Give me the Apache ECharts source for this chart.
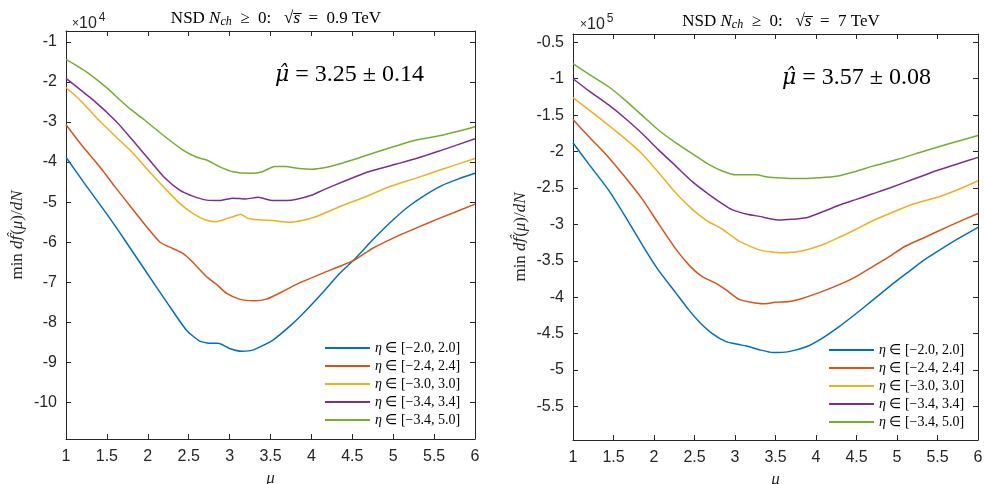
<!DOCTYPE html>
<html>
<head>
<meta charset="utf-8">
<script src="https://cdn.jsdelivr.net/npm/echarts@6/dist/echarts.min.js"></script>
<style>
  html, body { margin: 0; padding: 0; background: #fff; }
  #chart { width: 984px; height: 484px; }
</style>
</head>
<body>
<div id="chart"></div>
<script>
// Pseudorapidity window names (legend entries)
const etaNames = ['η ∈ [−2.0, 2.0]', 'η ∈ [−2.4, 2.4]', 'η ∈ [−3.0, 3.0]', 'η ∈ [−3.4, 3.4]', 'η ∈ [−3.4, 5.0]'];
const lineColors = ['#0072BD', '#D95319', '#EDB120', '#7E2F8E', '#77AC30'];

// Tick labels
const muTicks = [1, 1.5, 2, 2.5, 3, 3.5, 4, 4.5, 5, 5.5, 6];
const yTicks09 = [-10, -9, -8, -7, -6, -5, -4, -3, -2, -1];
const yTicks7 = [-5.5, -5, -4.5, -4, -3.5, -3, -2.5, -2, -1.5, -1, -0.5];

// sqrt(s) = 0.9 TeV : [mu, min df/dN] in units of 1e4
const s09_eta20 = [[1.0,-3.88],[1.25,-4.6],[1.5,-5.3],[1.72,-5.95],[2.0,-6.8],[2.25,-7.55],[2.47,-8.19],[2.63,-8.46],[2.75,-8.52],[2.86,-8.52],[3.0,-8.65],[3.15,-8.72],[3.3,-8.68],[3.53,-8.44],[3.75,-8.07],[3.94,-7.69],[4.15,-7.23],[4.35,-6.77],[4.53,-6.42],[4.75,-5.94],[5.0,-5.44],[5.2,-5.09],[5.4,-4.81],[5.6,-4.58],[5.8,-4.42],[6.0,-4.28]];
const s09_eta24 = [[1.0,-3.07],[1.2,-3.6],[1.41,-4.11],[1.6,-4.62],[1.82,-5.19],[2.0,-5.65],[2.15,-6.0],[2.3,-6.15],[2.43,-6.28],[2.55,-6.5],[2.72,-6.86],[2.85,-7.07],[2.96,-7.27],[3.12,-7.42],[3.3,-7.46],[3.45,-7.42],[3.65,-7.23],[3.86,-7.01],[4.14,-6.77],[4.35,-6.6],[4.53,-6.44],[4.75,-6.15],[5.04,-5.86],[5.3,-5.63],[5.57,-5.40],[6.0,-5.05]];
const s09_eta30 = [[1.0,-2.14],[1.17,-2.45],[1.4,-2.95],[1.6,-3.35],[1.82,-3.78],[2.0,-4.2],[2.23,-4.70],[2.4,-5.05],[2.55,-5.28],[2.7,-5.44],[2.83,-5.49],[2.95,-5.42],[3.05,-5.36],[3.13,-5.3],[3.22,-5.4],[3.35,-5.44],[3.53,-5.46],[3.73,-5.50],[3.9,-5.45],[4.06,-5.36],[4.35,-5.11],[4.67,-4.86],[4.96,-4.61],[5.28,-4.40],[5.6,-4.18],[6.0,-3.91]];
const s09_eta34 = [[1.0,-1.91],[1.33,-2.45],[1.62,-3.0],[1.8,-3.42],[2.02,-3.95],[2.2,-4.38],[2.39,-4.70],[2.55,-4.85],[2.72,-4.95],[2.88,-4.96],[3.04,-4.90],[3.2,-4.92],[3.35,-4.88],[3.53,-4.96],[3.7,-4.96],[3.82,-4.93],[4.0,-4.83],[4.14,-4.70],[4.4,-4.48],[4.67,-4.26],[5.04,-4.05],[5.3,-3.9],[5.57,-3.72],[6.0,-3.42]];
const s09_eta50 = [[1.0,-1.44],[1.25,-1.75],[1.5,-2.15],[1.66,-2.45],[1.8,-2.7],[1.96,-2.95],[2.2,-3.35],[2.43,-3.70],[2.6,-3.88],[2.72,-3.95],[2.88,-4.12],[3.04,-4.24],[3.25,-4.28],[3.4,-4.24],[3.55,-4.11],[3.68,-4.11],[3.85,-4.16],[4.0,-4.18],[4.23,-4.11],[4.5,-3.95],[4.75,-3.78],[5.0,-3.62],[5.28,-3.45],[5.6,-3.33],[6.0,-3.12]];

// sqrt(s) = 7 TeV : [mu, min df/dN] in units of 1e5
const s7_eta20 = [[1.0,-1.88],[1.2,-2.18],[1.44,-2.53],[1.65,-2.9],[1.86,-3.29],[2.05,-3.62],[2.27,-3.94],[2.42,-4.16],[2.56,-4.34],[2.72,-4.5],[2.89,-4.61],[3.05,-4.65],[3.14,-4.67],[3.30,-4.72],[3.47,-4.76],[3.65,-4.75],[3.88,-4.68],[4.08,-4.56],[4.29,-4.40],[4.5,-4.22],[4.70,-4.04],[4.91,-3.85],[5.12,-3.67],[5.32,-3.50],[5.53,-3.35],[5.75,-3.20],[6.0,-3.04]];
const s7_eta24 = [[1.0,-1.56],[1.2,-1.8],[1.44,-2.08],[1.65,-2.36],[1.86,-2.66],[2.05,-2.98],[2.27,-3.34],[2.45,-3.58],[2.60,-3.72],[2.75,-3.8],[2.89,-3.90],[3.05,-4.03],[3.2,-4.07],[3.34,-4.09],[3.5,-4.07],[3.67,-4.06],[3.85,-4.01],[4.08,-3.92],[4.3,-3.82],[4.49,-3.72],[4.7,-3.58],[4.91,-3.44],[5.1,-3.30],[5.32,-3.19],[5.65,-3.02],[6.0,-2.85]];
const s7_eta30 = [[1.0,-1.26],[1.2,-1.43],[1.44,-1.64],[1.65,-1.83],[1.86,-2.04],[2.05,-2.28],[2.27,-2.57],[2.45,-2.77],[2.64,-2.94],[2.85,-3.07],[3.05,-3.23],[3.3,-3.35],[3.58,-3.39],[3.8,-3.37],[4.08,-3.28],[4.3,-3.17],[4.49,-3.07],[4.7,-2.95],[4.91,-2.85],[5.2,-2.72],[5.52,-2.62],[5.8,-2.50],[6.0,-2.40]];
const s7_eta34 = [[1.0,-1.0],[1.2,-1.17],[1.44,-1.36],[1.65,-1.55],[1.86,-1.76],[2.05,-1.97],[2.27,-2.20],[2.48,-2.42],[2.68,-2.59],[2.85,-2.72],[2.97,-2.80],[3.15,-2.86],[3.30,-2.89],[3.55,-2.94],[3.7,-2.93],[3.88,-2.91],[4.1,-2.82],[4.3,-2.73],[4.49,-2.66],[4.7,-2.58],[4.91,-2.50],[5.2,-2.38],[5.52,-2.25],[5.8,-2.15],[6.0,-2.08]];
const s7_eta50 = [[1.0,-0.794],[1.2,-0.94],[1.44,-1.11],[1.65,-1.3],[1.86,-1.51],[2.05,-1.70],[2.27,-1.88],[2.5,-2.05],[2.68,-2.18],[2.85,-2.27],[3.01,-2.32],[3.15,-2.32],[3.26,-2.32],[3.4,-2.35],[3.51,-2.36],[3.7,-2.37],[3.84,-2.37],[4.05,-2.36],[4.25,-2.34],[4.5,-2.27],[4.7,-2.20],[5.0,-2.11],[5.32,-2.0],[5.65,-1.89],[6.0,-1.78]];

const panel09 = [s09_eta20, s09_eta24, s09_eta30, s09_eta34, s09_eta50];
const panel7 = [s7_eta20, s7_eta24, s7_eta30, s7_eta34, s7_eta50];

const AX = '#262626';
const SANS = 'Liberation Sans, Arial, Helvetica, sans-serif';
const SERIF = 'Liberation Serif, Times New Roman, serif';
const MARKED = 'DejaVu Serif, serif';

function xAxes(gridIndex) {
  const common = {
    type: 'value', gridIndex, min: 1, max: 6, interval: 0.5,
    splitLine: { show: false },
    axisLine: { show: true, onZero: false, lineStyle: { color: AX, width: 1 } },
    axisTick: { show: true, inside: true, length: 5, lineStyle: { color: AX } }
  };
  return [
    Object.assign({}, common, {
      position: 'bottom',
      name: 'μ', nameLocation: 'middle', nameGap: 27,
      nameTextStyle: { fontFamily: SERIF, fontStyle: 'italic', fontSize: 17, color: AX },
      axisLabel: { show: true, margin: 10, fontFamily: SANS, fontSize: 16, color: AX,
        customValues: muTicks, formatter: v => String(v) }
    }),
    Object.assign({}, common, { position: 'top', axisLabel: { show: false } })
  ];
}

function yAxes(gridIndex, min, max, ticks, nameGap) {
  const common = {
    type: 'value', gridIndex, min, max,
    splitLine: { show: false },
    axisLine: { show: true, onZero: false, lineStyle: { color: AX, width: 1 } },
    axisTick: { show: true, inside: true, length: 5, customValues: ticks, lineStyle: { color: AX } }
  };
  return [
    Object.assign({}, common, {
      position: 'left',
      name: '{r|min }{i|d}{h|f̂}{r|(}{i|μ}{r|)/}{i|dN}', nameLocation: 'middle', nameGap,
      nameTextStyle: { fontFamily: SERIF, fontSize: 17, color: AX,
        rich: { r: { fontFamily: SERIF, fontSize: 17, color: AX },
                i: { fontFamily: SERIF, fontSize: 17, fontStyle: 'italic', color: AX },
                h: { fontFamily: MARKED, fontSize: 15, fontStyle: 'italic', color: AX } } },
      axisLabel: { show: true, margin: 9, fontFamily: SANS, fontSize: 16, color: AX,
        customValues: ticks, formatter: v => String(v) }
    }),
    Object.assign({}, common, { position: 'right', axisLabel: { show: false } })
  ];
}

const series = [];
[panel09, panel7].forEach((panel, p) => {
  panel.forEach((data, k) => {
    series.push({
      type: 'line', name: etaNames[k], data,
      xAxisIndex: p * 2, yAxisIndex: p * 2,
      showSymbol: false, symbol: 'none', smooth: 0.2,
      lineStyle: { color: lineColors[k], width: 1.5 },
      itemStyle: { color: lineColors[k] },
      emphasis: { disabled: true }
    });
  });
});

const titleRich = {
  n: { fontFamily: SERIF, fontSize: 17, fontWeight: 'normal', color: '#000' },
  i: { fontFamily: SERIF, fontSize: 17, fontWeight: 'normal', fontStyle: 'italic', color: '#000' },
  s: { fontFamily: SERIF, fontSize: 12, fontWeight: 'normal', fontStyle: 'italic', color: '#000', padding: [7, 0, 0, 0] }
};
const expRich = {
  x: { fontFamily: SANS, fontSize: 12, fontWeight: 'normal', color: AX, padding: [5, 0, 0, 0] },
  t: { fontFamily: SANS, fontSize: 16, fontWeight: 'normal', color: AX, padding: [5, 0, 0, 0] },
  p: { fontFamily: SANS, fontSize: 12, fontWeight: 'normal', color: AX, padding: [0, 0, 8, 2] }
};
const annRich = {
  n: { fontFamily: SERIF, fontSize: 24, fontWeight: 'normal', color: '#000' },
  h: { fontFamily: MARKED, fontSize: 22, fontWeight: 'normal', fontStyle: 'italic', color: '#000' }
};

const legendCommon = {
  orient: 'vertical', icon: 'rect', itemWidth: 45, itemHeight: 2, itemGap: 2,
  data: etaNames,
  textStyle: { fontFamily: SERIF, fontSize: 14, color: '#000', lineHeight: 16,
    rich: { i: { fontFamily: SERIF, fontSize: 14, fontStyle: 'italic', color: '#000', lineHeight: 16 } } },
  formatter: name => name.replace('η', '{i|η}'),
  selectedMode: false
};

const option = {
  backgroundColor: '#fff',
  animation: false,
  grid: [
    { left: 66, top: 31, width: 409, height: 408, outerBoundsMode: 'none' },
    { left: 573, top: 34, width: 405, height: 406, outerBoundsMode: 'none' }
  ],
  xAxis: [...xAxes(0), ...xAxes(1)],
  yAxis: [...yAxes(0, -10.91, -0.73, yTicks09, 40), ...yAxes(1, -5.96, -0.386, yTicks7, 44)],
  title: [
    { text: '{n|NSD }{i|N}{s|ch}{n|  ≥  0:   √}{i|s̅}{n|  =  0.9 TeV}', left: 271, top: 4, textAlign: 'center',
      textStyle: { fontWeight: 'normal', rich: titleRich } },
    { text: '{n|NSD }{i|N}{s|ch}{n|  ≥  0:   √}{i|s̅}{n|  =  7 TeV}', left: 776, top: 7, textAlign: 'center',
      textStyle: { fontWeight: 'normal', rich: titleRich } },
    { text: '{x|×}{t|10}{p|4}', left: 67, top: 6, textStyle: { fontWeight: 'normal', rich: expRich } },
    { text: '{x|×}{t|10}{p|5}', left: 575, top: 7, textStyle: { fontWeight: 'normal', rich: expRich } },
    { text: '{h|μ̂}{n| = 3.25 ± 0.14}', left: 270, top: 58, textStyle: { fontWeight: 'normal', rich: annRich } },
    { text: '{h|μ̂}{n| = 3.57 ± 0.08}', left: 777, top: 61, textStyle: { fontWeight: 'normal', rich: annRich } }
  ],
  legend: [
    Object.assign({ left: 320, top: 335 }, legendCommon),
    Object.assign({ left: 824, top: 337 }, legendCommon)
  ],
  series
};

const chart = echarts.init(document.getElementById('chart'), null, { renderer: 'canvas' });
chart.setOption(option);
</script>
</body>
</html>
